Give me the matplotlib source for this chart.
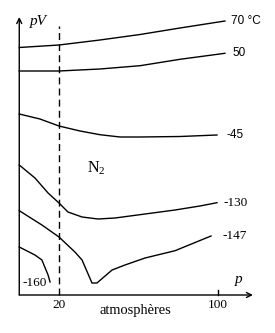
"""Isotherms of pV against p for nitrogen (Amagat-style sketch)."""

import matplotlib

matplotlib.use("Agg")
import matplotlib.pyplot as plt  # noqa: E402

SERIF = "Liberation Serif"
SANS = "Liberation Sans"

# pressure in atmospheres, pV in arbitrary units
p_70 = [0, 20, 40.6, 60.8, 80.9, 103.5]
pv_70 = [247.5, 250, 255, 260.5, 267, 274]

p_50 = [0, 20, 40.6, 60.8, 80.9, 103.5]
pv_50 = [224, 224, 226, 229.3, 235.7, 241.7]

p_m45 = [0, 10.4, 20, 30.6, 40.6, 50.7, 60.8, 80.9, 99.5]
pv_m45 = [181, 176, 169, 164, 160.3, 158, 158, 158.5, 160]

p_m130 = [0, 7.9, 14.5, 20, 24.5, 31.6, 39.6, 48.2, 63.3, 78.4, 90.9, 99.5]
pv_m130 = [130, 117, 102, 92, 83, 78, 76, 77, 81, 85, 89, 92.3]

p_m147 = [0, 11.4, 20, 28, 31.6, 36.6, 39.1, 46.7, 53.2, 63.3, 78.4, 96.5]
pv_m147 = [84.3, 70, 58, 43, 35, 12, 12, 25, 30, 37, 44.3, 59]

p_m160 = [0, 7.9, 11.4, 14.5, 15.5]
pv_m160 = [48, 40, 35, 20, 13]

labels = ["70 °C", "50", "-45", "-130", "-147"]
curves = [(p_70, pv_70), (p_50, pv_50), (p_m45, pv_m45),
          (p_m130, pv_m130), (p_m147, pv_m147)]

p_ticks = [20, 100]
p_dashed = 20

fig = plt.figure(figsize=(2.75, 3.33), dpi=100)
ax = fig.add_axes([0, 0, 1, 1])
ax.set_xlim(-9.69, 128.7)
ax.set_ylim(-38, 295)
ax.axis("off")

# axes drawn by hand with open arrow heads
arrow = dict(arrowstyle="->", lw=1.0, color="black", mutation_scale=9,
             shrinkA=0, shrinkB=0)
ax.annotate("", xy=(0, 278), xytext=(0, 0), arrowprops=arrow)
ax.annotate("", xy=(117.6, 0), xytext=(0, 0), arrowprops=arrow)

ax.plot([p_dashed, p_dashed], [0, 269], color="black", lw=1.0,
        dashes=(5, 3))

offsets = [3.0, 3.7, 5.0, 3.2, 5.7]
fams = [SANS, SANS, SANS, SERIF, SERIF]
for (px, pv), lab, off, fam in zip(curves, labels, offsets, fams):
    ax.plot(px, pv, color="black", lw=1.0)
    ax.text(px[-1] + off, pv[-1], lab, family=fam,
            fontsize=8.5 if fam == SANS else 9.5, ha="left", va="center")

ax.plot(p_m160, pv_m160, color="black", lw=1.0)
ax.text(1.7, 12.3, "-160", family=SERIF, fontsize=9.5, ha="left", va="center")

# ticks
ax.plot([100, 100], [0, 5], color="black", lw=1.0)
for t in p_ticks:
    ax.text(t, -10, str(t), family=SERIF, fontsize=9.5, ha="center", va="center")

ax.text(58.5, -15.5, "atmosphères", family=SERIF, fontsize=10.4,
        ha="center", va="center")
ax.text(110.5, 16, "p", family=SERIF, style="italic", fontsize=11,
        ha="center", va="center")
ax.text(5.5, 273, "pV", family=SERIF, style="italic", fontsize=11,
        ha="left", va="center")
ax.text(34.1, 123, r"N$_\mathregular{2}$", family=SERIF, fontsize=11.5,
        ha="left", va="baseline")

fig.savefig("out.png", dpi=100)
plt.close(fig)
